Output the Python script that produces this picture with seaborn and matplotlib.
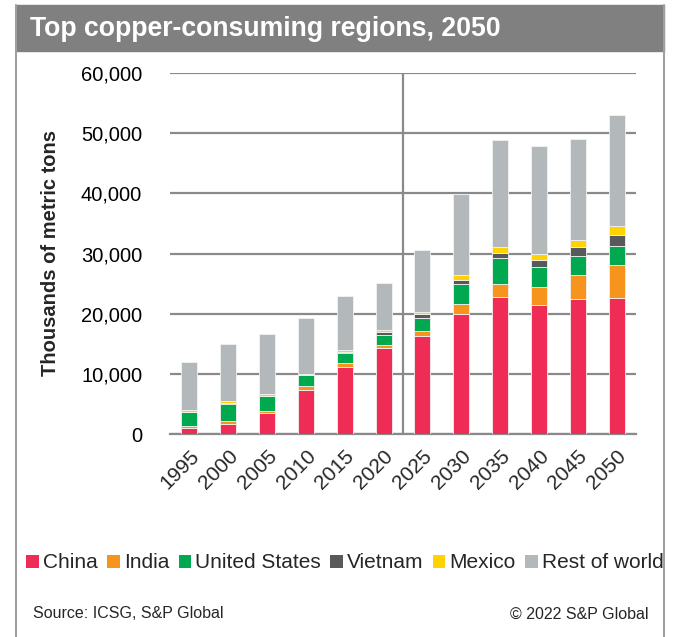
import matplotlib
matplotlib.use("Agg")
import matplotlib.pyplot as plt
from matplotlib.patches import Rectangle, Patch
from matplotlib.lines import Line2D
import seaborn as sns
import pandas as pd

years = ["1995", "2000", "2005", "2010", "2015", "2020",
         "2025", "2030", "2035", "2040", "2045", "2050"]
china = [1000, 1700, 3450, 7250, 11200, 14300, 16250, 20000, 22850, 21400, 22400, 22550]
india = [250, 400, 450, 650, 550, 450, 950, 1550, 2150, 2950, 4100, 5500]
united_states = [2400, 2950, 2400, 1850, 1750, 1700, 2100, 3400, 4200, 3350, 3150, 3200]
vietnam = [50, 50, 50, 50, 150, 450, 600, 650, 900, 1150, 1500, 1750]
mexico = [250, 450, 350, 250, 350, 350, 450, 750, 950, 1100, 1150, 1500]
rest_of_world = [8000, 9450, 9900, 9200, 9000, 7900, 10200, 13500, 17850, 17900, 16800, 18550]

regions = ["China", "India", "United States", "Vietnam", "Mexico", "Rest of world"]
series = [china, india, united_states, vietnam, mexico, rest_of_world]
colors = ["#EE2C55", "#F7941D", "#00A84F", "#58595B", "#FFD200", "#B3B9BA"]

rows = []
for reg, vals in zip(regions, series):
    for y, v in zip(years, vals):
        rows.append({"year": y, "region": reg, "value": v})
df = pd.DataFrame(rows)

sns.set_theme(style="white")
plt.rcParams["font.family"] = ["Liberation Sans", "DejaVu Sans"]

fig = plt.figure(figsize=(6.75, 6.37), dpi=100)
ax = fig.add_axes([170/675, 1-434/637, (636-170)/675, (434-73)/637])

palette = dict(zip(regions, colors))
sns.histplot(data=df, x="year", weights="value", hue="region",
             hue_order=regions[::-1], multiple="stack", discrete=True,
             shrink=0.41, palette=palette, alpha=1, edgecolor="#f2f2f2",
             linewidth=0.6, legend=False, ax=ax, zorder=3)

ax.set_xlim(-0.5, len(years) - 0.5)
ax.set_ylim(0, 60000)
ax.set_yticks(range(0, 60001, 10000))
ax.set_yticklabels([f"{v:,}" for v in range(0, 60001, 10000)], fontsize=14.5)
ax.yaxis.grid(True, color="#8a8a8a", linewidth=1.6)
ax.set_axisbelow(True)
for s in ["left", "right", "top"]:
    ax.spines[s].set_visible(False)
ax.spines["bottom"].set_color("#8a8a8a")
ax.spines["bottom"].set_linewidth(1.6)
ax.tick_params(axis="y", length=0, pad=20, colors="black")

ax.set_xticks(range(len(years)))
ax.set_xticklabels(years, rotation=45, ha="right", rotation_mode="anchor", fontsize=15)
ax.set_xticks([i - 0.5 for i in range(len(years) + 1)], minor=True)
ax.tick_params(axis="x", which="major", length=0, pad=9)
ax.tick_params(axis="x", which="minor", length=6, width=1.6, color="#8a8a8a", direction="out")
ax.axvline(5.5, color="#8a8a8a", linewidth=1.6, zorder=2)

ax.set_xlabel("")
ax.set_ylabel("Thousands of metric tons", fontsize=14.5, fontweight="bold", labelpad=15)

# frame and title band
fig.add_artist(Rectangle((16/675, 1-51/637), (664-16)/675, 46/637,
                         transform=fig.transFigure, color="#808080", zorder=0))
fig.add_artist(Line2D([16/675, 16/675], [0, 1-5/637], transform=fig.transFigure,
                      color="#a0a0a0", linewidth=1.5))
fig.add_artist(Line2D([664/675, 664/675], [0, 1-5/637], transform=fig.transFigure,
                      color="#a0a0a0", linewidth=1.5))
fig.text(30/675, 1-29/637, "Top copper-consuming regions, 2050", color="white",
         fontsize=19.2, fontweight="bold", va="center", ha="left")

handles = [Patch(facecolor=c, edgecolor="none") for c in colors]
fig.legend(handles, regions, loc="center", bbox_to_anchor=(345/675, 1-563/637),
           ncol=6, frameon=False, fontsize=15, handlelength=0.6, handleheight=0.6,
           handletextpad=0.2, columnspacing=0.45, borderaxespad=0, borderpad=0)

fig.text(33/675, 1-614/637, "Source: ICSG, S&P Global", fontsize=11.5, va="center", ha="left")
fig.text(648/675, 1-614/637, "\u00a9 2022 S&P Global", fontsize=11.5, va="center", ha="right")

fig.savefig("out.png", dpi=100)
